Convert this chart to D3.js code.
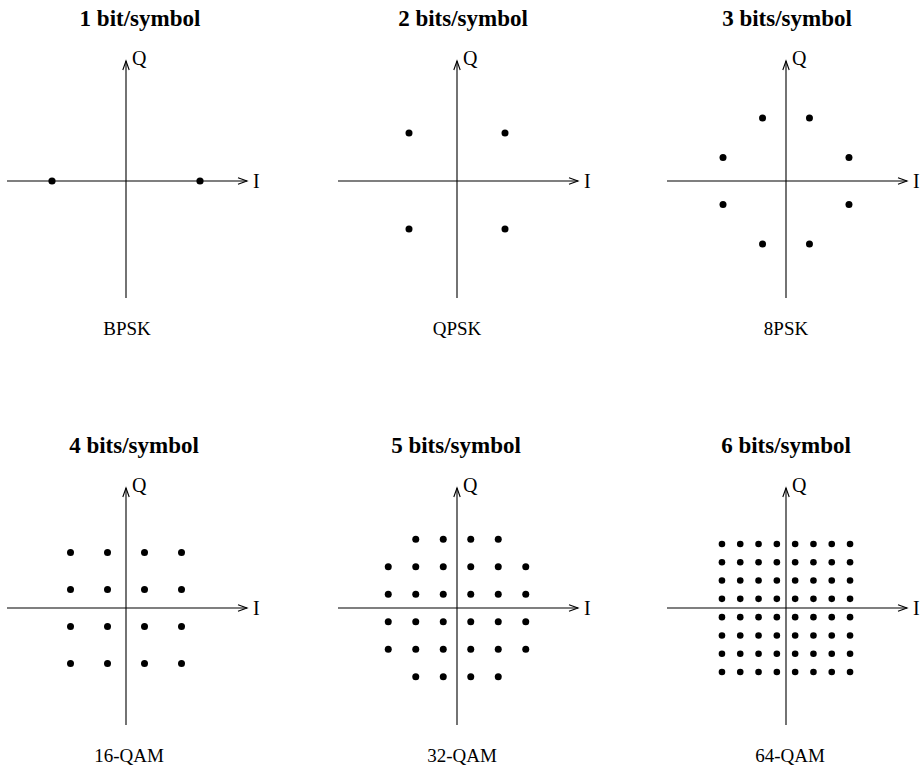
<!DOCTYPE html>
<html>
<head>
<meta charset="utf-8">
<script src="https://cdn.jsdelivr.net/npm/d3@7"></script>
<style>
  body { margin: 0; background: #fff; }
  text { font-family: "Liberation Serif", "Times New Roman", serif; fill: #000; }
</style>
</head>
<body>
<div id="chart"></div>
<script>
  // Panel labels
  const titles = ["1 bit/symbol", "2 bits/symbol", "3 bits/symbol",
                  "4 bits/symbol", "5 bits/symbol", "6 bits/symbol"];
  const names = ["BPSK", "QPSK", "8PSK", "16-QAM", "32-QAM", "64-QAM"];

  // Constellation points (I, Q) in normalised units
  const bpskI = [-1, 1];
  const bpskQ = [0, 0];
  const qpskI = [-1, 1, -1, 1];
  const qpskQ = [1, 1, -1, -1];
  const psk8I = [-0.35, 0.35, 0.94, 0.94, 0.35, -0.35, -0.94, -0.94];
  const psk8Q = [0.94, 0.94, 0.35, -0.35, -0.94, -0.94, -0.35, 0.35];
  const qam16Levels = [-3, -1, 1, 3];
  const qam32Levels = [-5, -3, -1, 1, 3, 5];
  const qam64Levels = [-7, -5, -3, -1, 1, 3, 5, 7];

  function zipPoints(I, Q) {
    return I.map((v, i) => ({ i: v, q: Q[i] }));
  }
  function grid(levels, keep) {
    const pts = [];
    levels.forEach(q => levels.forEach(i => {
      if (!keep || keep(i, q)) pts.push({ i: i, q: q });
    }));
    return pts;
  }

  const maxL32 = d3.max(qam32Levels);
  const points = [
    zipPoints(bpskI, bpskQ),
    zipPoints(qpskI, qpskQ),
    zipPoints(psk8I, psk8Q),
    grid(qam16Levels),
    grid(qam32Levels, (i, q) => !(Math.abs(i) === maxL32 && Math.abs(q) === maxL32)),
    grid(qam64Levels)
  ];

  // Layout of the six panels
  const width = 921, height = 769;
  const centersX = [126, 457, 786];
  const centersY = [181, 608];
  const unitPx = [74, 48, 67, 18.5, 13.75, 9.15];
  const titleX = [140, 463, 787, 134, 456, 786];
  const nameX = [127, 457, 786, 129, 462, 790];
  const dotR = [3.6, 3.5, 3.5, 3.5, 3.5, 3.3];

  const svg = d3.select("#chart")
    .append("svg")
    .attr("width", width)
    .attr("height", height);

  points.forEach(function (pts, k) {
    const cx = centersX[k % 3];
    const cy = centersY[Math.floor(k / 3)];
    const u = unitPx[k];

    const x = d3.scaleLinear().domain([-1, 1]).range([cx - u, cx + u]);
    const y = d3.scaleLinear().domain([-1, 1]).range([cy + u, cy - u]);

    const g = svg.append("g");

    // I axis
    g.append("line")
      .attr("x1", cx - 119).attr("x2", cx + 121)
      .attr("y1", cy).attr("y2", cy)
      .attr("stroke", "#000").attr("stroke-width", 1.1);
    g.append("path")
      .attr("d", `M${cx + 112},${cy - 3.2} L${cx + 121},${cy} L${cx + 112},${cy + 3.2}`)
      .attr("fill", "none").attr("stroke", "#000").attr("stroke-width", 1.1);

    // Q axis
    g.append("line")
      .attr("x1", cx).attr("x2", cx)
      .attr("y1", cy + 117).attr("y2", cy - 120)
      .attr("stroke", "#000").attr("stroke-width", 1.1);
    g.append("path")
      .attr("d", `M${cx - 3.2},${cy - 111} L${cx},${cy - 120} L${cx + 3.2},${cy - 111}`)
      .attr("fill", "none").attr("stroke", "#000").attr("stroke-width", 1.1);

    g.append("text")
      .attr("x", cx + 127).attr("y", cy + 7)
      .attr("font-size", 20)
      .text("I");
    g.append("text")
      .attr("x", cx + 6).attr("y", cy - 116)
      .attr("font-size", 20)
      .text("Q");

    // Symbols
    g.selectAll("circle")
      .data(pts)
      .enter()
      .append("circle")
      .attr("cx", d => x(d.i))
      .attr("cy", d => y(d.q))
      .attr("r", dotR[k])
      .attr("fill", "#000");

    // Title and modulation name
    svg.append("text")
      .attr("x", titleX[k]).attr("y", cy - 155)
      .attr("text-anchor", "middle")
      .attr("font-size", 23)
      .attr("font-weight", "bold")
      .text(titles[k]);
    svg.append("text")
      .attr("x", nameX[k]).attr("y", cy + 154)
      .attr("text-anchor", "middle")
      .attr("font-size", 19)
      .text(names[k]);
  });
</script>
</body>
</html>
